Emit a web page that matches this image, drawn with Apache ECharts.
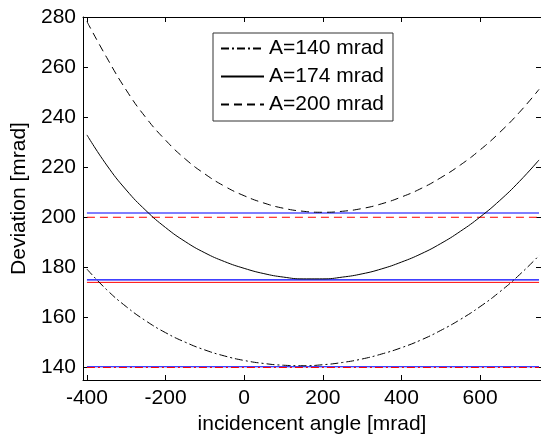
<!DOCTYPE html>
<html><head><meta charset="utf-8">
<script src="https://cdn.jsdelivr.net/npm/echarts@6/dist/echarts.min.js"></script>
<style>html,body{margin:0;padding:0;background:#fff}#c{width:541px;height:435px}</style>
</head><body><div id="c"></div>
<script>
// incidence angle [mrad]
const incidence = [-400,-350,-300,-250,-200,-150,-100,-50,0,50,100,150,200,250,300,350,400,450,500,550,600,650,700,750];
// deviation [mrad] for each apex angle
const devA140 = [179.3,171.1,164.3,158.6,153.9,150.1,147.0,144.6,142.8,141.6,140.9,140.7,141.1,142.0,143.4,145.4,147.9,151.0,154.8,159.2,164.3,170.2,177.0,184.7];
const devA174 = [232.9,220.9,210.9,202.7,195.9,190.3,185.8,182.3,179.6,177.5,176.1,175.4,175.4,176.1,177.4,179.4,182.1,185.4,189.5,194.4,200.1,206.7,214.3,222.9];
const devA200 = [278.2,263.9,250.8,239.8,230.8,223.3,217.3,212.4,208.6,205.7,203.6,202.4,202.0,202.4,203.5,205.4,208.1,211.5,215.8,220.9,226.9,233.9,241.9,251.1];
// horizontal reference levels
const redLevels = [140, 174, 200];
const blueLevels = [140.3, 175, 201.7];
const seriesNames = ['A=140 mrad', 'A=174 mrad', 'A=200 mrad'];
const xTicks = [-400, -200, 0, 200, 400, 600];
const yTicks = [140, 160, 180, 200, 220, 240, 260, 280];
const xLabel = 'incidencent angle [mrad]';
const yLabel = 'Deviation [mrad]';

const FONT = 'Liberation Sans, Arial, sans-serif';
const pair = (xs, ys) => xs.map((x, i) => [x, ys[i]]);
const hline = v => [[incidence[0], v], [incidence[incidence.length - 1], v]];
const dashDot = [8, 3, 2, 3];
const dashed = [8, 5];
const styles = [dashDot, 'solid', dashed];
const curves = [devA140, devA174, devA200];

const series = [];
blueLevels.forEach(v => series.push({
  type: 'line', data: hline(v), symbol: 'none', silent: true, z: 2,
  color: '#0000ff', itemStyle: {color: '#0000ff'},
  lineStyle: {color: '#0000ff', width: 1.2, type: 'solid'}
}));
redLevels.forEach((v, i) => series.push({
  type: 'line', data: hline(v), symbol: 'none', silent: true, z: 3,
  color: '#ff0000', itemStyle: {color: '#ff0000'},
  lineStyle: {color: '#ff0000', width: 1, type: styles[i]}
}));
curves.forEach((c, i) => series.push({
  name: seriesNames[i], type: 'line', data: pair(incidence, c), symbol: 'none', showSymbol: false, smooth: true, z: 4,
  color: '#000',
  lineStyle: {color: '#000', width: 1, type: styles[i]},
  itemStyle: {color: '#000'}
}));

const axisCommon = {
  type: 'value',
  axisLine: {show: true, onZero: false, lineStyle: {color: '#000', width: 1}},
  splitLine: {show: false}
};
const chart = echarts.init(document.getElementById('c'), null, {renderer: 'canvas'});
chart.setOption({
  animation: false,
  backgroundColor: '#fff',
  grid: {left: 83, right: 0, top: 17, bottom: 55, containLabel: false, outerBoundsMode: 'none'},
  xAxis: [
    Object.assign({}, axisCommon, {
      position: 'bottom', min: -410, max: 755,
      axisTick: {show: true, inside: true, length: 5, customValues: xTicks, lineStyle: {color: '#000'}},
      axisLabel: {customValues: xTicks, color: '#000', fontSize: 21, fontFamily: FONT, margin: 8},
      name: xLabel, nameLocation: 'middle', nameGap: 31,
      nameTextStyle: {color: '#000', fontSize: 21, fontFamily: FONT}
    }),
    Object.assign({}, axisCommon, {
      position: 'top', min: -410, max: 755,
      axisTick: {show: true, inside: true, length: 5, customValues: xTicks, lineStyle: {color: '#000'}},
      axisLabel: {show: false}
    })
  ],
  yAxis: [
    Object.assign({}, axisCommon, {
      position: 'left', min: 135, max: 280,
      axisTick: {show: true, inside: true, length: 5, customValues: yTicks, lineStyle: {color: '#000'}},
      axisLabel: {customValues: yTicks, color: '#000', fontSize: 21, fontFamily: FONT, margin: 7},
      name: yLabel, nameLocation: 'middle', nameGap: 45,
      nameTextStyle: {color: '#000', fontSize: 21, fontFamily: FONT}
    }),
    Object.assign({}, axisCommon, {
      position: 'right', min: 135, max: 280,
      axisTick: {show: true, inside: true, length: 5, customValues: yTicks, lineStyle: {color: '#000'}},
      axisLabel: {show: false}
    })
  ],
  legend: {
    data: seriesNames, orient: 'vertical', left: 213, top: 33,
    padding: [5, 9, 6, 7], itemWidth: 43, itemHeight: 14, itemGap: 7,
    borderColor: '#333', borderWidth: 1, backgroundColor: '#fff',
    itemStyle: {color: 'rgba(0,0,0,0)', borderWidth: 0, borderColor: 'rgba(0,0,0,0)'},
    textStyle: {color: '#000', fontSize: 21, fontFamily: FONT},
    selectedMode: false
  },
  series: series
});
</script></body></html>
